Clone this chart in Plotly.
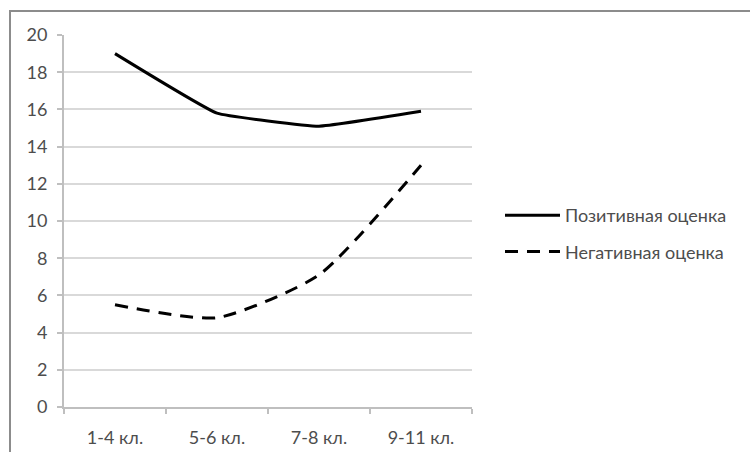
import plotly.graph_objects as go

# Survey data: share of responses by grade group
grades = ["1-4 кл.", "5-6 кл.", "7-8 кл.", "9-11 кл."]
positive = [19.0, 15.8, 15.1, 15.9]
negative = [5.5, 4.8, 7.1, 13.0]
y_ticks = [0, 2, 4, 6, 8, 10, 12, 14, 16, 18, 20]

fig = go.Figure()
fig.add_trace(go.Scatter(
    x=grades, y=positive, name="Позитивная оценка", mode="lines",
    line=dict(color="black", width=3, shape="spline", smoothing=0.3),
    legendgroup="a",
))
fig.add_trace(go.Scatter(
    x=grades, y=negative, name="Негативная оценка", mode="lines",
    line=dict(color="black", width=3, dash="13px,9px", shape="spline", smoothing=0.6),
    legendgroup="b",
))

W, H = 750, 452
L, R, T, B = 64, 278, 35, 45
pw, ph = W - L - R, H - T - B

def px_x(v):
    return (v - L) / pw

def px_y(v):
    return (H - B - v) / ph

text_color = "#4d4d4d"

fig.update_layout(
    width=W, height=H,
    margin=dict(l=L, r=R, t=T, b=B, autoexpand=False),
    paper_bgcolor="white", plot_bgcolor="white",
    font=dict(family="Lato, Open Sans, sans-serif", size=18, color=text_color),
    showlegend=True,
    legend=dict(
        x=px_x(500), y=px_y(197), xanchor="left", yanchor="top",
        font=dict(size=18, color=text_color),
        itemwidth=55,
        traceorder="grouped", tracegroupgap=10,
        bgcolor="rgba(0,0,0,0)",
    ),
    xaxis=dict(
        type="category", range=[-0.5, 3.5], automargin=False,
        showgrid=False, showline=True, linecolor="#bfbfbf", linewidth=2,
        ticks="outside", tickson="boundaries", ticklen=5, tickcolor="#bfbfbf",
        tickwidth=2, ticklabelstandoff=13,
        tickfont=dict(size=18, color=text_color),
    ),
    yaxis=dict(
        range=[0, 20], tickvals=y_ticks, automargin=False,
        showgrid=True, gridcolor="#d9d9d9", gridwidth=2,
        showline=True, linecolor="#bfbfbf", linewidth=2,
        ticks="outside", ticklen=5, tickcolor="#bfbfbf", tickwidth=2,
        ticklabelstandoff=6,
        tickfont=dict(size=18, color=text_color),
        zeroline=False,
    ),
    shapes=[dict(
        type="rect", xref="paper", yref="paper",
        x0=px_x(10), x1=px_x(770), y0=px_y(470), y1=px_y(11),
        line=dict(color="#8c8c8c", width=2), fillcolor="rgba(0,0,0,0)",
        layer="below",
    )],
)

fig.write_html("out.html")
